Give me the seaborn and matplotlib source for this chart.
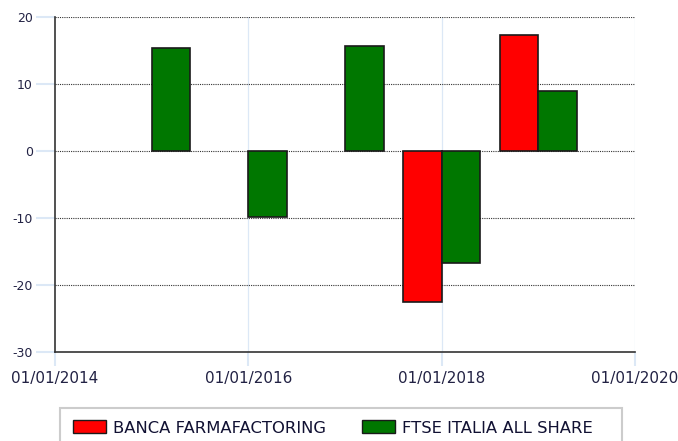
import matplotlib
matplotlib.use("Agg")
import matplotlib.pyplot as plt
import seaborn as sns
import pandas as pd
from matplotlib.patches import Patch, Rectangle

# Data
series_names = ["BANCA FARMAFACTORING", "FTSE ITALIA ALL SHARE"]
bf_years = [2018, 2019]
bf_values = [-22.5, 17.3]
ftse_years = [2015, 2016, 2017, 2018, 2019]
ftse_values = [15.4, -9.9, 15.7, -16.7, 8.9]
x_tick_years = [2014, 2016, 2018, 2020]
x_tick_labels = ["01/01/2014", "01/01/2016", "01/01/2018", "01/01/2020"]
y_ticks = [-30, -20, -10, 0, 10, 20]
colors = ["#ff0000", "#007700"]

df = pd.DataFrame({
    "year": [float(y) for y in bf_years + ftse_years],
    "value": bf_values + ftse_values,
    "series": [series_names[0]] * len(bf_years) + [series_names[1]] * len(ftse_years),
})

sns.set_style("white")
plt.rcParams["font.family"] = ["DejaVu Sans"]
plt.rcParams["axes.unicode_minus"] = False

fig = plt.figure(figsize=(6.78, 4.41), dpi=100)
ax = fig.add_axes([55 / 678, 1 - 352 / 441, 580 / 678, 335 / 441])

sns.barplot(data=df, x="year", y="value", hue="series", hue_order=series_names,
            palette=colors, native_scale=True, dodge=True, width=0.8,
            edgecolor="#1a1a1a", linewidth=1.2, saturation=1, errorbar=None,
            legend=False, ax=ax, zorder=3)

ax.set_xlim(2014, 2020)
ax.set_ylim(-30, 20)
ax.set_xticks(x_tick_years)
ax.set_xticklabels(x_tick_labels)
ax.set_yticks(y_ticks)
ax.set_xlabel("")
ax.set_ylabel("")

# grids
for yv in y_ticks[1:]:
    ax.axhline(yv, color="#333333", linestyle=(0, (1, 1)), linewidth=0.8, zorder=1)
for xv in x_tick_years[1:]:
    ax.axvline(xv, color="#dce8f6", linewidth=0.9, zorder=0)

for s in ["top", "right"]:
    ax.spines[s].set_visible(False)
for s in ["left", "bottom"]:
    ax.spines[s].set_color("#333333")
    ax.spines[s].set_linewidth(1.2)
    ax.spines[s].set_zorder(4)

ax.tick_params(axis="y", left=True, length=14, width=1.5, color="#dce8f6", labelsize=9,
               labelcolor="#222244", pad=2)
ax.tick_params(axis="x", bottom=True, length=10, width=1.5, color="#dce8f6", labelsize=11,
               labelcolor="#222244", pad=4)

# legend
fig.patches.append(Rectangle((60 / 678, 1 - 446 / 441), 562 / 678, 38 / 441,
                             transform=fig.transFigure, facecolor="white",
                             edgecolor="#cccccc", linewidth=1.5, zorder=0))
handles = [Patch(facecolor=c, edgecolor="#1a1a1a", linewidth=1.0) for c in colors]
leg = fig.legend(handles, series_names, loc="center left",
                 bbox_to_anchor=(73 / 678, 1 - 428 / 441),
                 ncol=2, frameon=False,
                 fontsize=11.8, handlelength=2.0, handleheight=0.85,
                 borderaxespad=0, borderpad=0, handletextpad=0.43,
                 columnspacing=2.2)
for t in leg.get_texts():
    t.set_color("#111133")

fig.savefig("out.png", dpi=100)
